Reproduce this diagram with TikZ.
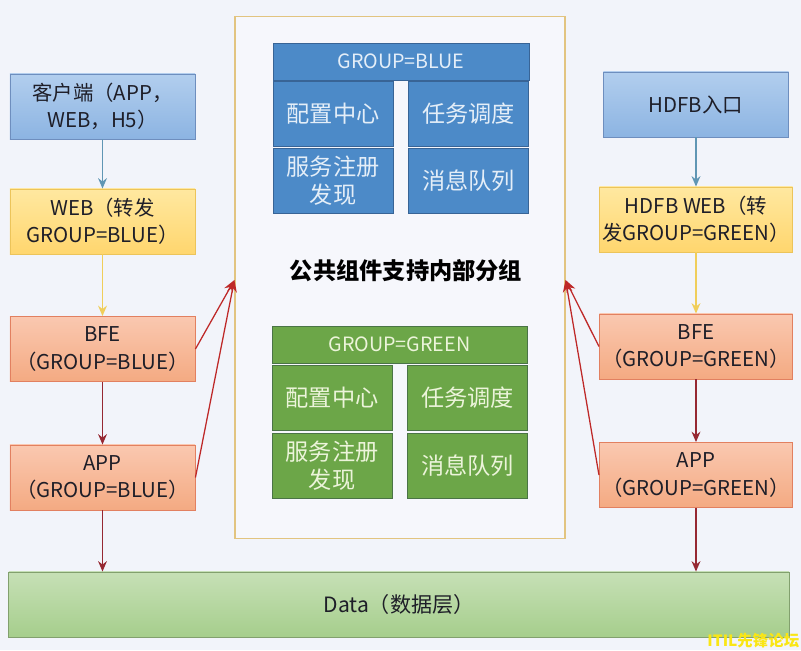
\documentclass[tikz,border=0pt]{standalone}
\usepackage{fontspec}
\setmainfont{Noto Sans CJK SC}
\usepackage{tikz}
\usetikzlibrary{arrows.meta}
\definecolor{bgpale}{RGB}{242,244,250}
\definecolor{hubfill}{RGB}{246,247,252}
\definecolor{hubline}{RGB}{226,196,128}
\definecolor{txtdark}{RGB}{30,30,40}
\definecolor{clienttop}{RGB}{178,206,238}
\definecolor{clientbot}{RGB}{140,180,226}
\definecolor{clientline}{RGB}{110,142,190}
\definecolor{webtop}{RGB}{255,232,160}
\definecolor{webbot}{RGB}{255,214,110}
\definecolor{webline}{RGB}{236,196,90}
\definecolor{bfetop}{RGB}{250,200,176}
\definecolor{bfebot}{RGB}{244,170,130}
\definecolor{bfeline}{RGB}{226,128,96}
\definecolor{datatop}{RGB}{198,224,182}
\definecolor{databot}{RGB}{166,206,140}
\definecolor{dataline}{RGB}{130,160,110}
\definecolor{grpblue}{RGB}{76,138,200}
\definecolor{grpblueline}{RGB}{56,100,150}
\definecolor{grpbluetxt}{RGB}{228,238,248}
\definecolor{grpgreen}{RGB}{108,166,72}
\definecolor{grpgreenline}{RGB}{74,116,70}
\definecolor{grpgreentxt}{RGB}{236,244,218}
\definecolor{arrblue}{RGB}{96,150,180}
\definecolor{arryellow}{RGB}{240,206,90}
\definecolor{arrdark}{RGB}{150,40,50}
\definecolor{arrred}{RGB}{190,40,40}
\definecolor{markyellow}{RGB}{250,230,20}
\tikzset{
  box/.style={draw,line width=0.6pt,minimum width=4.625cm,minimum height=1.625cm,inner sep=2pt,align=center,text=txtdark,font=\fontsize{14.5}{19.5}\selectfont},
  clientbox/.style={box,draw=clientline,top color=clienttop,bottom color=clientbot},
  webbox/.style={box,draw=webline,top color=webtop,bottom color=webbot},
  bfebox/.style={box,draw=bfeline,top color=bfetop,bottom color=bfebot},
  bluehead/.style={draw=grpblueline,fill=grpblue,text=grpbluetxt,line width=0.6pt,minimum width=6.4cm,minimum height=0.925cm,inner sep=0pt,font=\fontsize{14}{19.5}\selectfont},
  bluecell/.style={bluehead,minimum width=3cm,minimum height=1.625cm,align=center,font=\fontsize{16.5}{20}\selectfont},
  greenhead/.style={bluehead,draw=grpgreenline,fill=grpgreen,text=grpgreentxt},
  greencell/.style={bluecell,draw=grpgreenline,fill=grpgreen,text=grpgreentxt},
  flow/.style={-{Stealth[length=2.6mm,width=2.2mm]},line width=1.1pt},
  feed/.style={-{Stealth[length=3mm,width=2.4mm]},line width=0.9pt,draw=arrred},
}
\begin{document}
\begin{tikzpicture}[x=0.025cm,y=-0.025cm]
  \fill[bgpale] (0,0) rectangle (801,650);
  \useasboundingbox (0,0) rectangle (801,650);

  % shared components
  \node[draw=hubline,fill=hubfill,line width=0.8pt,minimum width=8.25cm,minimum height=13.025cm,inner sep=0pt] (hub) at (400,277.5) {};
  \node[bluehead,minimum width=6.4cm] (bhead) at (401,61.5) {GROUP=BLUE};
  \node[bluecell] (bconf) at (333,113.5) {配置中心};
  \node[bluecell] (btask) at (468.5,113.5) {任务调度};
  \node[bluecell] (breg) at (333,180.5) {服务注册\\发现};
  \node[bluecell] (bmq) at (468.5,180.5) {消息队列};
  \node[font=\fontsize{16.5}{20}\selectfont\bfseries,text=black] (hubtitle) at (406,271) {公共组件支持内部分组};
  \node[greenhead,minimum width=6.375cm] (ghead) at (399.5,344.5) {GROUP=GREEN};
  \node[greencell] (gconf) at (332,397.5) {配置中心};
  \node[greencell] (gtask) at (467.5,397.5) {任务调度};
  \node[greencell] (greg) at (332,465.5) {服务注册\\发现};
  \node[greencell] (gmq) at (467.5,465.5) {消息队列};

  % blue chain
  \node[clientbox] (client) at (102.5,106.5) {客户端（APP，\\WEB，H5）};
  \node[webbox] (webl) at (102.5,221.5) {WEB（转发\\GROUP=BLUE）};
  \node[bfebox] (bfel) at (102.5,349) {BFE\\（GROUP=BLUE）};
  \node[bfebox] (appl) at (102.5,477.5) {APP\\（GROUP=BLUE）};

  % green chain
  \node[clientbox] (hdfb) at (696,104.5) {HDFB入口};
  \node[webbox] (webr) at (696,219.5) {HDFB WEB（转\\发GROUP=GREEN）};
  \node[bfebox] (bfer) at (696,346.5) {BFE\\（GROUP=GREEN）};
  \node[bfebox] (appr) at (696,475) {APP\\（GROUP=GREEN）};

  \node[box,draw=dataline,top color=datatop,bottom color=databot,minimum width=19.5cm,font=\fontsize{15}{19.5}\selectfont] (data) at (399,604.5) {Data（数据层）};

  \draw[flow,draw=arrblue] (client) -- (webl);
  \draw[flow,draw=arryellow] (webl) -- (bfel);
  \draw[flow,draw=arrdark] (bfel) -- (appl);
  \draw[flow,draw=arrdark] (appl) -- (appl.south |- data.north);
  \draw[flow,draw=arrblue] (hdfb) -- (webr);
  \draw[flow,draw=arryellow] (webr) -- (bfer);
  \draw[flow,draw=arrdark] (bfer) -- (appr);
  \draw[flow,draw=arrdark] (appr) -- (appr.south |- data.north);

  \coordinate (hubin) at (hub.west |- 0,280);
  \coordinate (hubout) at (hub.east |- 0,280);
  \draw[feed] (bfel.east) -- (hubin);
  \draw[feed] (appl.east) -- (hubin);
  \draw[feed] (bfer.west) -- (hubout);
  \draw[feed] (appr.west) -- (hubout);

  \node[anchor=south east,inner sep=1pt,text=markyellow,font=\fontsize{11}{12}\selectfont\bfseries] (mark) at (801,650) {ITIL先锋论坛};
\end{tikzpicture}
\end{document}
